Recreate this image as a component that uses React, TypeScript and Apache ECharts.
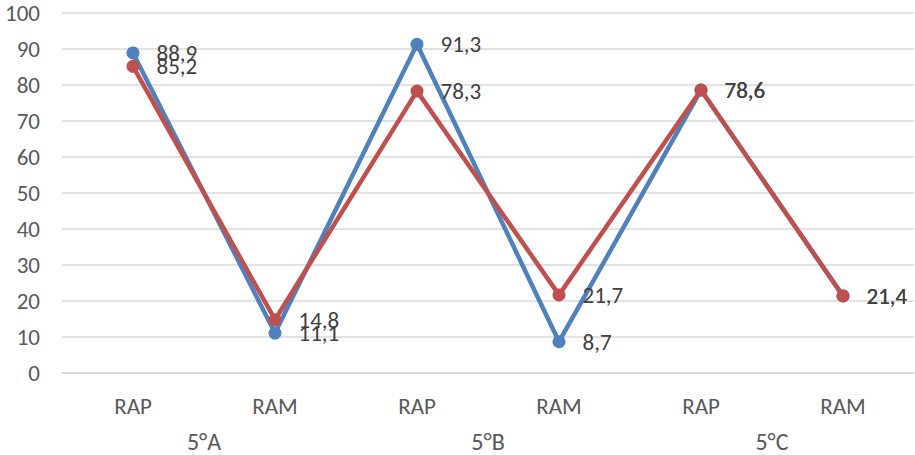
import React, { useEffect, useRef } from "react";
import * as echarts from "echarts";

const categories = ["RAP", "RAM", "RAP", "RAM", "RAP", "RAM"];
const groups = ["5°A", "5°B", "5°C"];
const seriesBlue = [88.9, 11.1, 91.3, 8.7, 78.6, 21.4];
const seriesRed = [85.2, 14.8, 78.3, 21.7, 78.6, 21.4];

const fmt = (v: number) => v.toFixed(1).replace(".", ",");
const FONT = "Carlito, 'Liberation Sans', 'Open Sans', sans-serif";

export default function App() {
  const ref = useRef<HTMLDivElement>(null);
  useEffect(() => {
    if (!ref.current) return;
    const chart = echarts.init(ref.current, null, { renderer: "svg" });
    const mkSeries = (name: string, data: number[], color: string) => ({
      name,
      type: "line",
      data,
      symbol: "circle",
      symbolSize: 13,
      lineStyle: { color, width: 4.5 },
      itemStyle: { color },
      label: {
        show: true,
        position: "right",
        distance: 17,
        formatter: (p: any) => fmt(p.value),
        color: "#404040",
        fontSize: 23,
        fontFamily: FONT,
      },
    });
    chart.setOption({
      animation: false,
      grid: { left: 62, right: 1, top: 13, bottom: 82 },
      xAxis: [
        {
          type: "category",
          data: categories,
          axisLine: { lineStyle: { color: "#d9d9d9", width: 1.5 } },
          axisTick: { show: false },
          axisLabel: { color: "#595959", fontSize: 23, fontFamily: FONT, margin: 21 },
        },
        {
          type: "category",
          data: groups,
          position: "bottom",
          offset: 56,
          axisLine: { show: false },
          axisTick: { show: false },
          axisLabel: { color: "#595959", fontSize: 24, fontFamily: FONT, margin: 0 },
        },
      ],
      yAxis: {
        type: "value",
        min: 0,
        max: 100,
        interval: 10,
        axisLine: { show: false },
        axisTick: { show: false },
        splitLine: { lineStyle: { color: "#d9d9d9", width: 1.5 } },
        axisLabel: { color: "#595959", fontSize: 23, fontFamily: FONT, margin: 22 },
      },
      series: [mkSeries("Blue", seriesBlue, "#4F81BD"), mkSeries("Red", seriesRed, "#C0504D")],
    });
    return () => chart.dispose();
  }, []);
  return (
    <div
      ref={ref}
      style={{ position: "absolute", left: 0, top: 0, width: 915, height: 455 }}
    />
  );
}
